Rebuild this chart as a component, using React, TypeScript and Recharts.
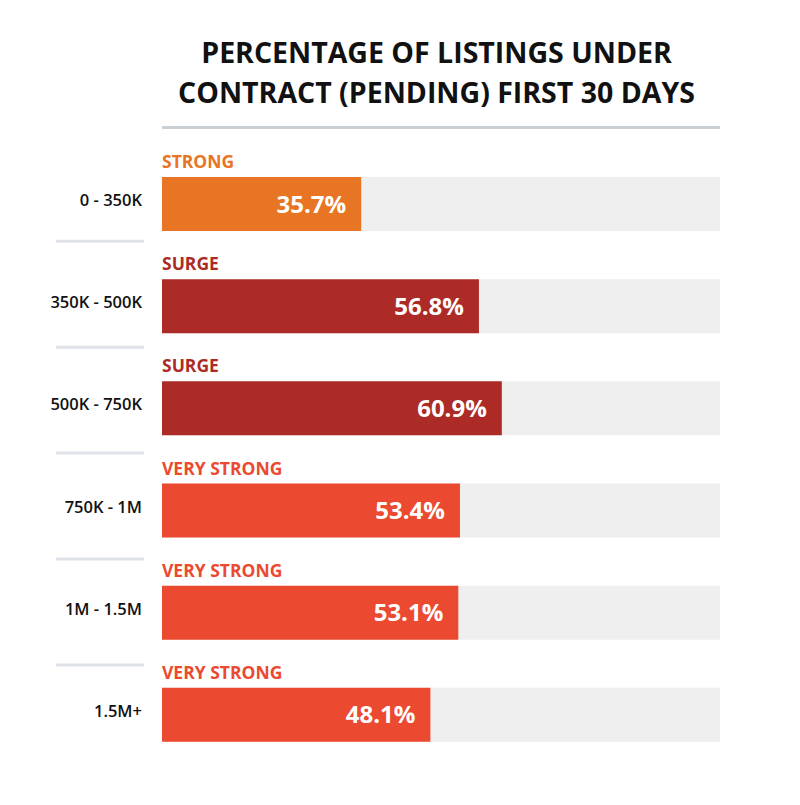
import React from 'react';
import { BarChart, Bar, XAxis, YAxis, Cell, LabelList } from 'recharts';

// values
const priceRanges = ['0 - 350K', '350K - 500K', '500K - 750K', '750K - 1M', '1M - 1.5M', '1.5M+'];
const pendingPct = [35.7, 56.8, 60.9, 53.4, 53.1, 48.1];
const marketStatus = ['STRONG', 'SURGE', 'SURGE', 'VERY STRONG', 'VERY STRONG', 'VERY STRONG'];

const statusColors: Record<string, string> = {
  STRONG: '#E87524',
  SURGE: '#AD2B26',
  'VERY STRONG': '#EC4A30',
};

const data = priceRanges.map((range, i) => ({
  range,
  pct: pendingPct[i],
  status: marketStatus[i],
}));

const FONT = '"Open Sans", sans-serif';

const RangeTick = (props: any) => {
  const { x, y, payload, index } = props;
  const lineY = y - 68.75 + 3.75 * index;
  return (
    <g>
      {index > 0 && (
        <line x1={x - 86} x2={x + 2} y1={lineY} y2={lineY} stroke="#DFE2E8" strokeWidth={3} />
      )}
      <text x={x} y={y} dy={2} textAnchor="end" fontFamily={FONT} fontWeight={600} fontSize={16.5} fill="#111">
        {payload.value}
      </text>
    </g>
  );
};

const ValueLabel = (props: any) => {
  const { x, y, width, height, value } = props;
  return (
    <text
      x={x + width - 15}
      y={y + height / 2 + 8.5}
      textAnchor="end"
      fontFamily={FONT}
      fontWeight={700}
      fontSize={24}
      fill="#fff"
    >
      {`${value}%`}
    </text>
  );
};

const StatusLabel = (props: any) => {
  const { x, y, value } = props;
  return (
    <text x={x} y={y - 9} fontFamily={FONT} fontWeight={700} fontSize={17.5} fill={statusColors[value]}>
      {value}
    </text>
  );
};

export default function App() {
  return (
    <div style={{ position: 'relative', width: 800, height: 805, background: '#fff', fontFamily: FONT }}>
      <style>{'body{margin:0}'}</style>
      <div
        style={{
          position: 'absolute',
          top: 32,
          left: 0,
          width: 800,
          textAlign: 'center',
          fontSize: 28.5,
          lineHeight: '40px',
          fontWeight: 700,
          color: '#111',
          paddingLeft: 73,
          boxSizing: 'border-box',
        }}
      >
        PERCENTAGE OF LISTINGS UNDER
        <br />
        CONTRACT (PENDING) FIRST 30 DAYS
      </div>
      <div style={{ position: 'absolute', top: 126, left: 162, width: 558, height: 3, background: '#CBD0D5' }} />
      <BarChart
        width={800}
        height={805}
        data={data}
        layout="vertical"
        margin={{ top: 153, right: 80, bottom: 39, left: 0 }}
      >
        <XAxis type="number" domain={[0, 100]} hide />
        <YAxis
          type="category"
          dataKey="range"
          width={162}
          axisLine={false}
          tickLine={false}
          tickSize={0}
          tickMargin={20}
          interval={0}
          tick={<RangeTick />}
        />
        <Bar dataKey="pct" barSize={54} background={{ fill: '#EFEFEF' }} isAnimationActive={false}>
          {data.map((d, i) => (
            <Cell key={i} fill={statusColors[d.status]} />
          ))}
          <LabelList dataKey="pct" content={<ValueLabel />} />
          <LabelList dataKey="status" content={<StatusLabel />} />
        </Bar>
      </BarChart>
    </div>
  );
}
